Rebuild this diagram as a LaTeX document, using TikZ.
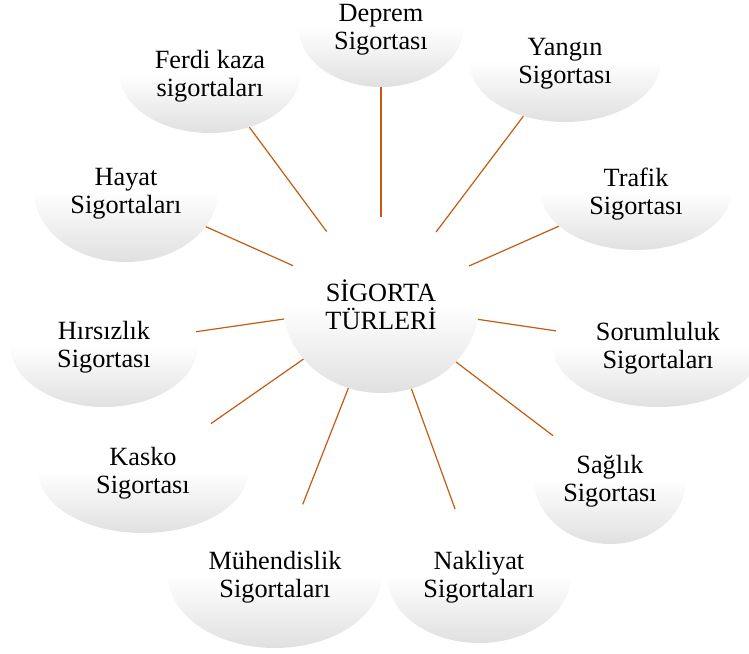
\documentclass[tikz,border=0pt]{standalone}
\usepackage{fontspec}
\setmainfont{Liberation Serif}
\usetikzlibrary{shapes.geometric}

\definecolor{linkc}{RGB}{197,90,17}
\definecolor{bubblegray}{RGB}{224,224,224}
% white upper half, soft grey towards the bottom rim
\pgfdeclareverticalshading{bubblefill}{100bp}{%
  color(0bp)=(bubblegray); color(25bp)=(bubblegray);
  color(50bp)=(white); color(75bp)=(white); color(100bp)=(white)}

% extra head room on the first line, so the two lines sit a little lower
\newcommand\bubblestrut{\rule{0pt}{23pt}}

\tikzset{
  bubble/.style={ellipse, inner sep=0pt, shade, shading=bubblefill,
    align=center, text=black, font=\fontsize{26.3}{28}\selectfont},
  hubtext/.style={font=\fontsize{26.3}{28}\selectfont},
  link/.style={draw=linkc, line width=1.2pt}
}

\begin{document}
\begin{tikzpicture}[x=1pt, y=-1pt]
  \useasboundingbox (0,0) rectangle (749,653);
  \clip (0,0) rectangle (749,653);

  % centre
  \node[bubble, hubtext, minimum width=196pt, minimum height=176pt] (hub) at (381,305) {SİGORTA\\TÜRLERİ};

  % satellites, clockwise from the top
  \node[bubble, minimum width=165pt, minimum height=120pt] (deprem)   at (381,27)  {\bubblestrut Deprem\\Sigortası};
  \node[bubble, minimum width=192pt, minimum height=122pt] (yangin)   at (565,61)  {\bubblestrut Yangın\\Sigortası};
  \node[bubble, minimum width=190pt, minimum height=116pt] (trafik)   at (636,192) {\bubblestrut Trafik\\Sigortası};
  \node[bubble, minimum width=210pt, minimum height=122pt] (sorum)    at (658,346) {\bubblestrut Sorumluluk\\Sigortaları};
  \node[bubble, minimum width=152pt, minimum height=130pt] (saglik)   at (610,479) {\bubblestrut Sağlık\\Sigortası};
  \node[bubble, minimum width=184pt, minimum height=136pt] (nakliyat) at (479,575) {\bubblestrut Nakliyat\\Sigortaları};
  \node[bubble, minimum width=214pt, minimum height=146pt] (muhendis) at (275,575) {\bubblestrut Mühendislik\\Sigortaları};
  \node[bubble, minimum width=210pt, minimum height=124pt] (kasko)    at (143,471) {\bubblestrut Kasko\\Sigortası};
  \node[bubble, minimum width=188pt, minimum height=124pt] (hirsiz)   at (104,345) {\bubblestrut Hırsızlık\\Sigortası};
  \node[bubble, minimum width=184pt, minimum height=142pt] (hayat)    at (126,191) {\bubblestrut Hayat\\Sigortaları};
  \node[bubble, minimum width=180pt, minimum height=118pt] (ferdi)    at (210,74)  {\bubblestrut Ferdi kaza\\sigortaları};

  % spokes
  \foreach \s in {deprem,yangin,trafik,sorum,saglik,nakliyat,muhendis,kasko,hirsiz,hayat,ferdi}
    \draw[link] (hub) -- (\s);
\end{tikzpicture}
\end{document}
